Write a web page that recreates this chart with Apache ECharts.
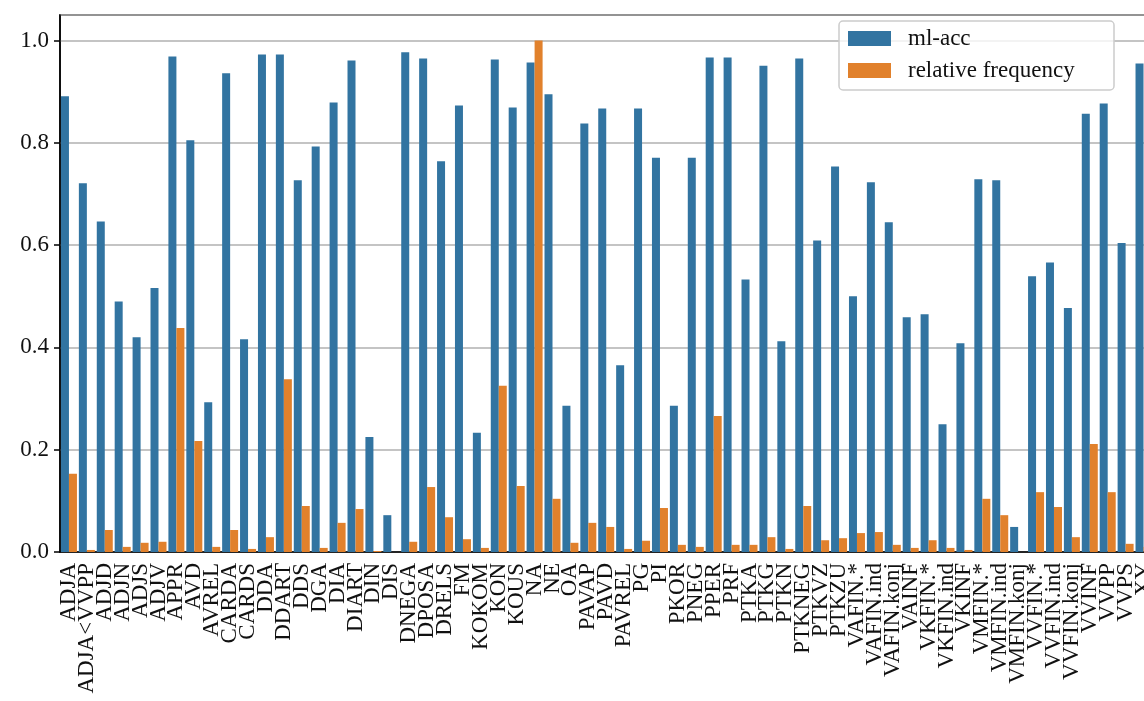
<!DOCTYPE html>
<html>
<head>
<meta charset="utf-8">
<script src="https://cdn.jsdelivr.net/npm/echarts@6/dist/echarts.min.js"></script>
<style>
  html, body { margin: 0; padding: 0; background: #fff; overflow: hidden; }
  /* axes run past the right edge of the window, like the cropped original */
  #chart { width: 1155px; height: 701px; }
</style>
</head>
<body>
<div id="chart"></div>
<script>
// POS tags on the x axis
const categories = ['ADJA', 'ADJA<VVPP', 'ADJD', 'ADJN', 'ADJS', 'ADJV', 'APPR', 'AVD', 'AVREL', 'CARDA',
  'CARDS', 'DDA', 'DDART', 'DDS', 'DGA', 'DIA', 'DIART', 'DIN', 'DIS', 'DNEGA',
  'DPOSA', 'DRELS', 'FM', 'KOKOM', 'KON', 'KOUS', 'NA', 'NE', 'OA', 'PAVAP',
  'PAVD', 'PAVREL', 'PG', 'PI', 'PKOR', 'PNEG', 'PPER', 'PRF', 'PTKA', 'PTKG',
  'PTKN', 'PTKNEG', 'PTKVZ', 'PTKZU', 'VAFIN.*', 'VAFIN.ind', 'VAFIN.konj', 'VAINF', 'VKFIN.*', 'VKFIN.ind',
  'VKINF', 'VMFIN.*', 'VMFIN.ind', 'VMFIN.konj', 'VVFIN.*', 'VVFIN.ind', 'VVFIN.konj', 'VVINF', 'VVPP', 'VVPS',
  'XY'];

// ml-acc per tag
const mlAcc = [0.891, 0.721, 0.646, 0.490, 0.420, 0.516, 0.969, 0.805, 0.293, 0.936,
  0.416, 0.973, 0.973, 0.727, 0.793, 0.879, 0.961, 0.225, 0.072, 0.977,
  0.965, 0.764, 0.873, 0.233, 0.963, 0.869, 0.957, 0.895, 0.286, 0.838,
  0.867, 0.365, 0.867, 0.771, 0.286, 0.771, 0.967, 0.967, 0.533, 0.951,
  0.412, 0.965, 0.609, 0.754, 0.500, 0.723, 0.645, 0.459, 0.465, 0.250,
  0.408, 0.729, 0.727, 0.049, 0.539, 0.566, 0.477, 0.857, 0.877, 0.604,
  0.955];

// relative frequency per tag
const relFreq = [0.153, 0.004, 0.043, 0.010, 0.018, 0.020, 0.438, 0.217, 0.010, 0.043,
  0.006, 0.029, 0.338, 0.090, 0.008, 0.057, 0.084, 0.002, 0.000, 0.020,
  0.127, 0.068, 0.025, 0.008, 0.325, 0.129, 1.000, 0.104, 0.018, 0.057,
  0.049, 0.006, 0.022, 0.086, 0.014, 0.010, 0.266, 0.014, 0.014, 0.029,
  0.006, 0.090, 0.023, 0.027, 0.037, 0.039, 0.014, 0.008, 0.023, 0.008,
  0.004, 0.104, 0.072, 0.000, 0.117, 0.088, 0.029, 0.211, 0.117, 0.016,
  0.010];

const yMin = 0;
const yMax = 1.05;
const yStep = 0.2;

const FONT = '"Liberation Serif", "DejaVu Serif", serif';
const chart = echarts.init(document.getElementById('chart'), null, { renderer: 'canvas' });

chart.setOption({
  animation: false,
  backgroundColor: '#fff',
  textStyle: { fontFamily: FONT },
  grid: {
    left: 60, top: 15, bottom: 149, right: 0,
    show: true, borderColor: '#000', borderWidth: 1.5
  },
  // legend frame (matplotlib style box)
  graphic: [{
    type: 'rect',
    shape: { x: 839, y: 21, width: 275, height: 69, r: 4 },
    style: { fill: 'rgba(255,255,255,0.8)', stroke: '#cccccc', lineWidth: 1.5 },
    z: 50
  }],
  legend: {
    orient: 'vertical',
    left: 848, top: 27,
    padding: 0,
    itemWidth: 43, itemHeight: 15, itemGap: 9,
    icon: 'rect',
    z: 60,
    textStyle: { fontFamily: FONT, fontSize: 23, color: '#111', lineHeight: 22, padding: [0, 0, 0, 12] },
    data: ['ml-acc', 'relative frequency']
  },
  xAxis: {
    type: 'category',
    data: categories,
    axisLine: { lineStyle: { color: '#000', width: 1.5 } },
    axisTick: { alignWithLabel: true, length: 6, lineStyle: { color: '#000', width: 1.5 } },
    axisLabel: { interval: 0, rotate: 90, margin: 11, fontFamily: FONT, fontSize: 23, color: '#111' },
    splitLine: { show: false }
  },
  yAxis: {
    type: 'value',
    min: yMin, max: yMax, interval: yStep,
    axisLine: { show: true, lineStyle: { color: '#000', width: 1.5 } },
    axisTick: { show: true, length: 6, lineStyle: { color: '#000', width: 1.5 } },
    axisLabel: {
      margin: 11, fontFamily: FONT, fontSize: 23, color: '#111',
      showMaxLabel: false,
      formatter: v => v.toFixed(1)
    },
    splitLine: { lineStyle: { color: '#b0b0b0', width: 1.5 } }
  },
  series: [{
    name: 'ml-acc',
    type: 'bar',
    data: mlAcc,
    barWidth: 8,
    barGap: '0%',
    itemStyle: { color: '#3274a1' }
  }, {
    name: 'relative frequency',
    type: 'bar',
    data: relFreq,
    barWidth: 8,
    barGap: '0%',
    itemStyle: { color: '#e1812c' }
  }]
});
</script>
</body>
</html>
